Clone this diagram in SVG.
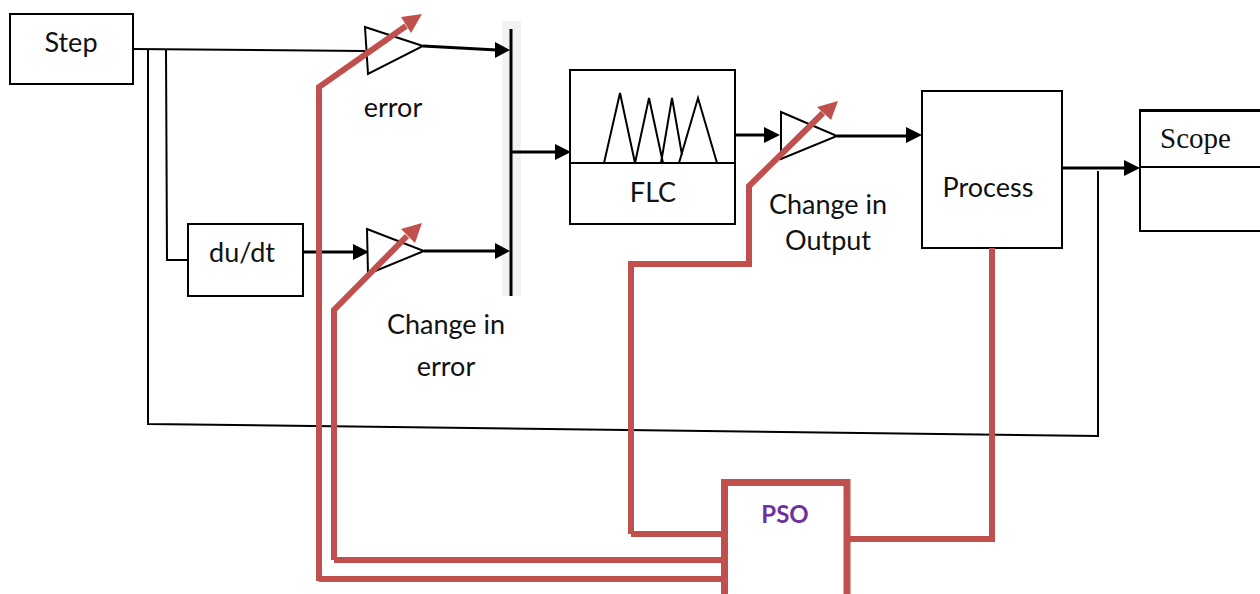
<svg xmlns="http://www.w3.org/2000/svg" width="1260" height="594" viewBox="0 0 1260 594">
<style>
.b{fill:#fff;stroke:#000;stroke-width:2}
.w{fill:none;stroke:#000;stroke-width:2}
.t{fill:none;stroke:#000;stroke-width:3}
.r{fill:none;stroke:#c0504d;stroke-width:6}
.l{font-family:Lato,"Liberation Sans",sans-serif;font-size:27px;fill:#111;text-anchor:middle}
.h{fill:#000}
.rh{fill:#c0504d}
</style>
<rect width="1260" height="594" fill="#fff"/>
<g id="connectors-black">
<rect x="502" y="21" width="19" height="275" fill="#f2f2f2"/>
<path class="w" d="M133 49L365 51"/>
<path class="w" d="M148 49V424L1098 436V171"/>
<path class="w" d="M166 49L167 260H188"/>
<path class="t" d="M303 252H356"/>
<path class="t" d="M423 46L497 50"/>
<path class="t" d="M424 251H497"/>
<path class="t" d="M511 29V296"/>
<path class="t" d="M511 152H556"/>
<path class="t" d="M735 135H766"/>
<path class="t" d="M837 136H907"/>
<path class="t" d="M1063 168H1125"/>
<polygon class="h" points="510,50 495,42 495,58"/>
<polygon class="h" points="510,251 495,243 495,259"/>
<polygon class="h" points="369,252 353,244 353,260"/>
<polygon class="h" points="571,152 555,144 555,160"/>
<polygon class="h" points="780,135 764,127 764,143"/>
<polygon class="h" points="922,135 906,127 906,143"/>
<polygon class="h" points="1140,168 1124,160 1124,176"/>
</g>
<g id="step"><rect class="b" x="10" y="14" width="123" height="70"/><text class="l" x="71" y="52">Step</text></g>
<g id="dudt"><rect class="b" x="188" y="224" width="115" height="72"/><text class="l" x="242" y="262">du/dt</text></g>
<g id="gain-error"><polygon class="b" points="365,27 423,46 368,74"/><text class="l" x="393" y="117">error</text></g>
<g id="gain-change-error"><polygon class="b" points="367,229 424,251 368,274"/><text class="l" x="446" y="334">Change in</text><text class="l" x="446" y="376">error</text></g>
<g id="flc"><rect class="b" x="570" y="70" width="165" height="154"/>
<path class="w" d="M570 163H735M604 163L620 93L635 163L649 98L663 163M661 163L672 98L682 155M679 163L698 98L717 163"/>
<text class="l" x="653" y="202">FLC</text></g>
<g id="gain-output"><polygon class="b" points="781,112 837,136 781,159"/><text class="l" x="828" y="214">Change in</text><text class="l" x="828" y="250">Output</text></g>
<g id="process"><rect class="b" x="922" y="91" width="140" height="157"/><text class="l" x="988" y="197">Process</text></g>
<g id="scope"><path class="w" d="M1260 231H1140V110"/><path class="t" d="M1139 110.500H1260"/><path class="w" d="M1140 167H1260"/><text x="1160" y="148" font-family="'Liberation Serif',serif" font-size="29" fill="#111">Scope</text></g>
<g id="connectors-red">
<path class="r" d="M319 581V87L406 26"/>
<path class="r" d="M334 560V310L407 236"/>
<path class="r" d="M631 534V264H749V186L823 113"/>
<path class="r" d="M992 248V539H848"/>
<path class="r" d="M319 579H724M334 560H724M631 534H724"/>
<polygon class="rh" points="422,14 401,17 411,33"/>
<polygon class="rh" points="422,223 401,229 415,243"/>
<polygon class="rh" points="838,101 817,107 831,120"/>
</g>
<g id="pso"><path d="M724.500 594V482.500H847V594" fill="#fff" stroke="#c0504d" stroke-width="7"/><text x="785" y="523" font-family="Lato,'Liberation Sans',sans-serif" font-size="24" font-weight="700" fill="#7030a0" text-anchor="middle">PSO</text></g>
</svg>
